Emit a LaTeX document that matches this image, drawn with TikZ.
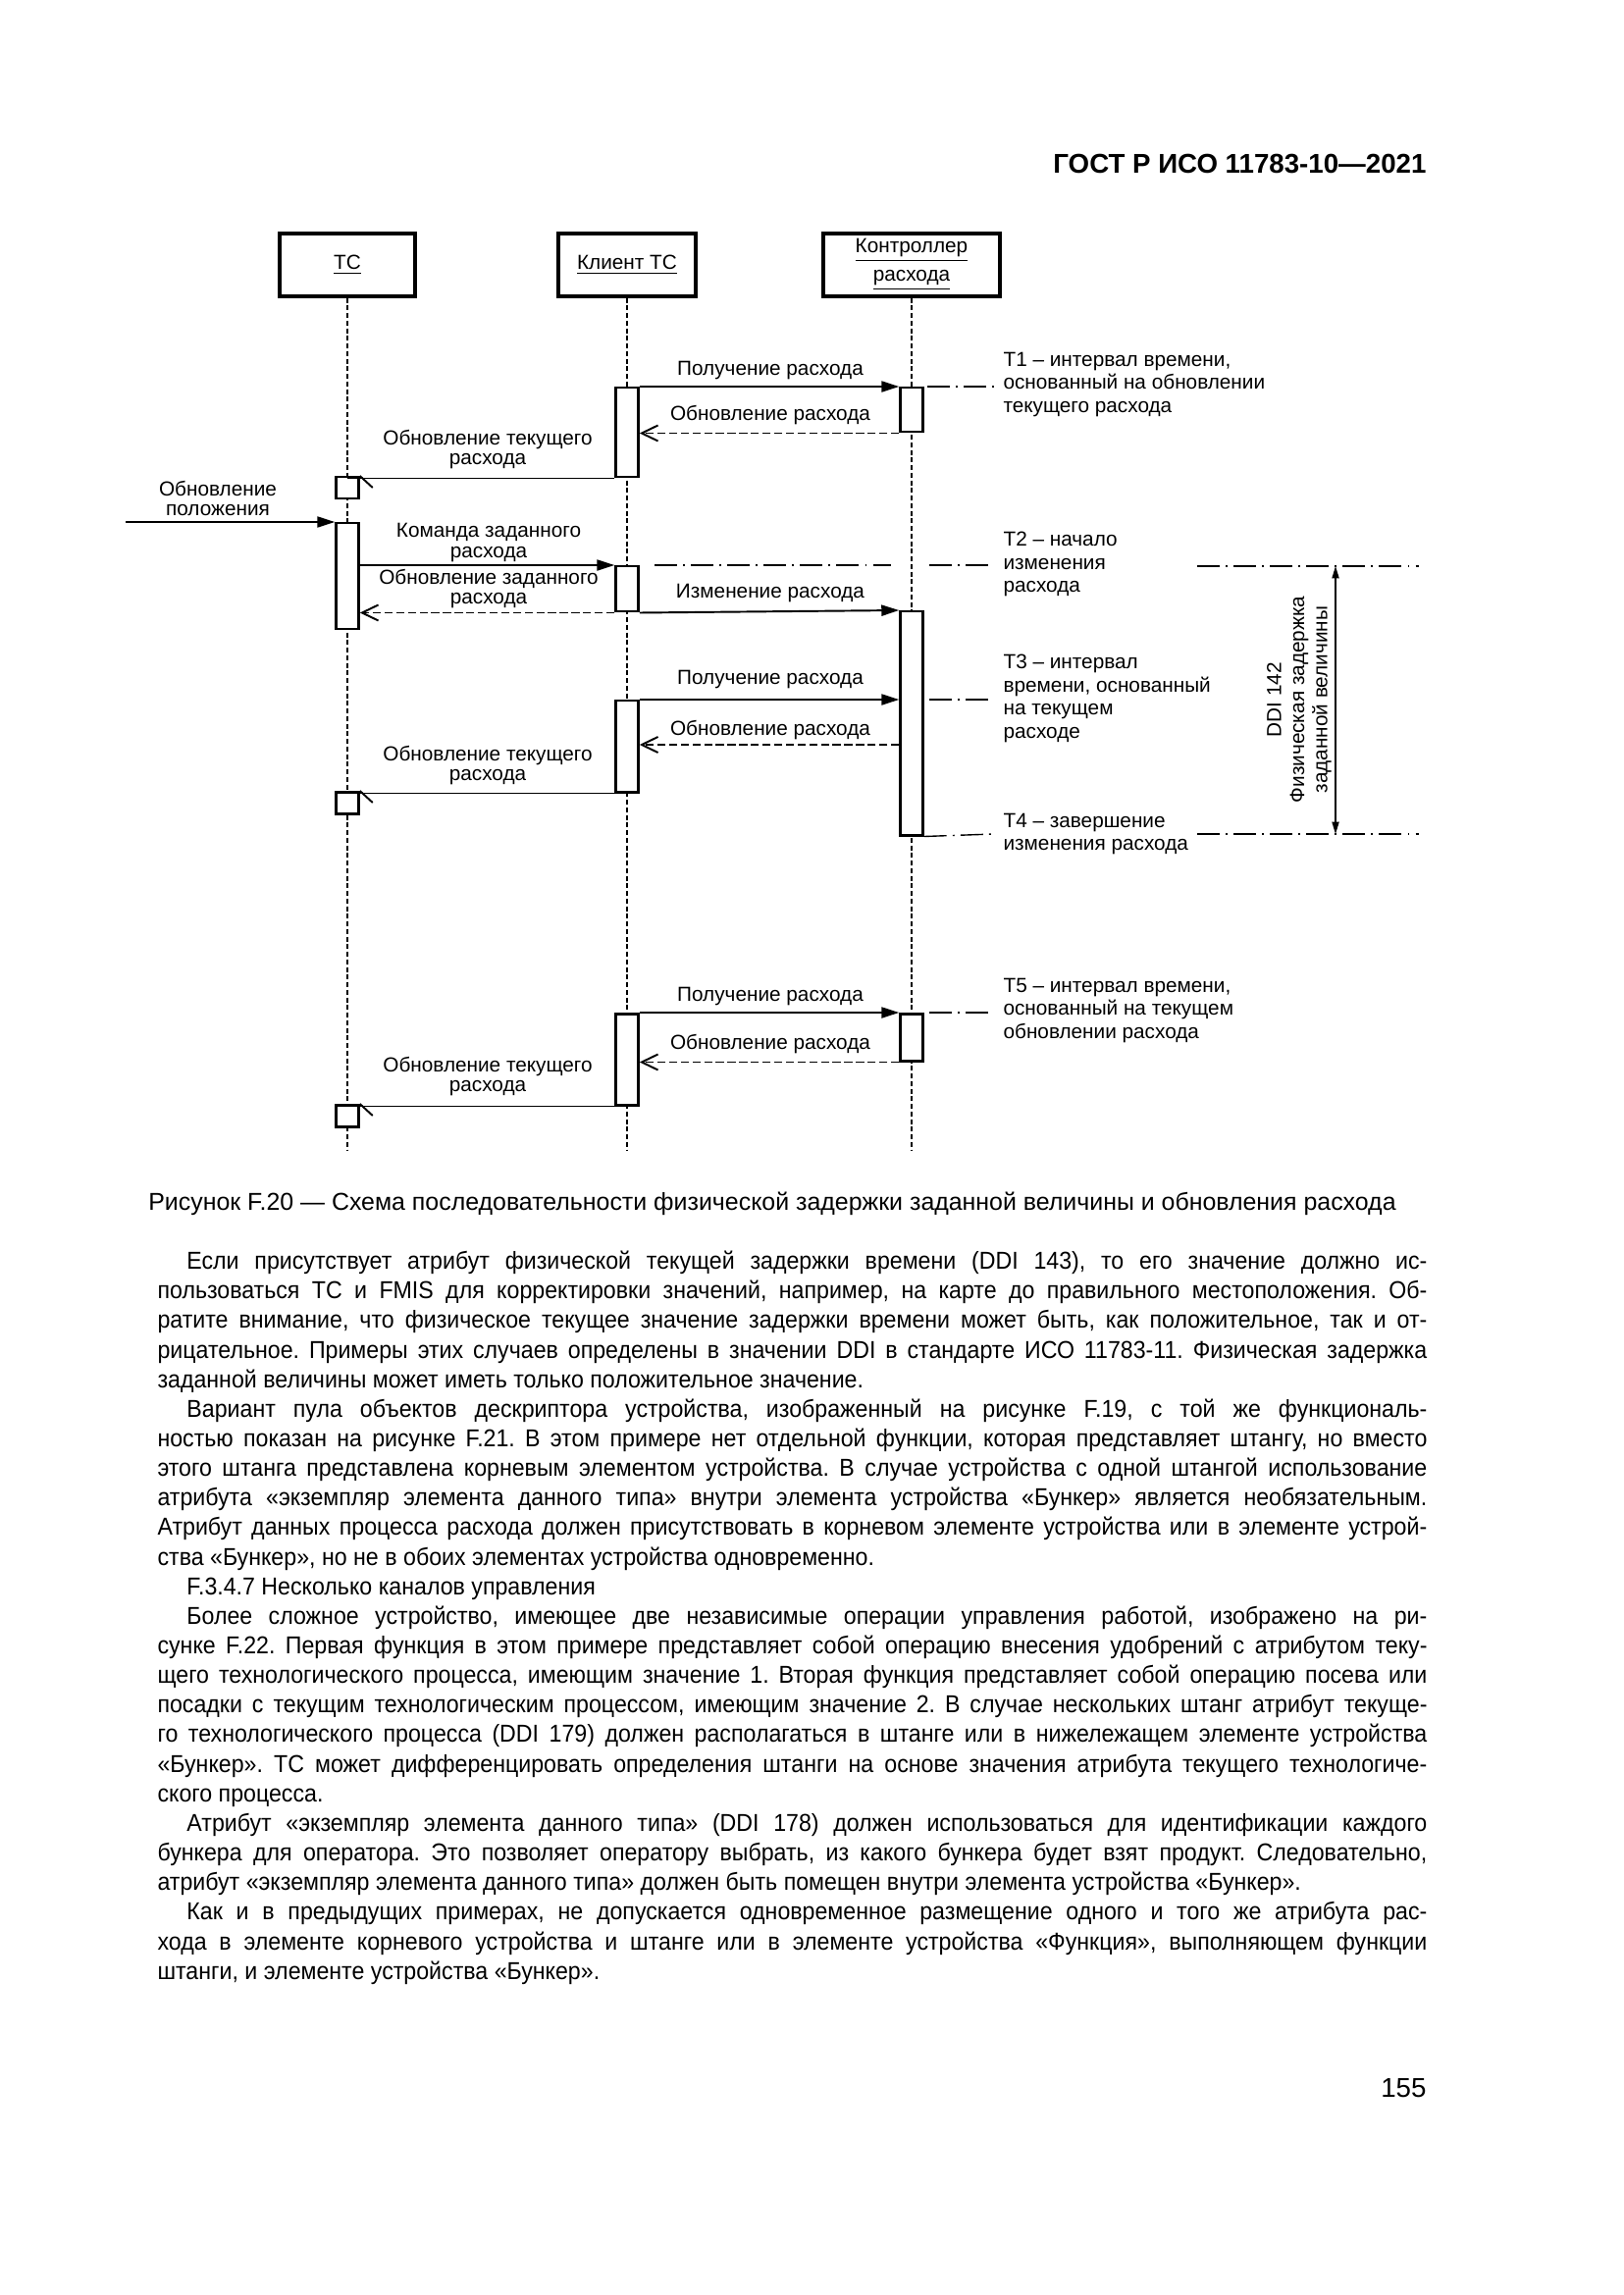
\documentclass[tikz,border=0pt]{standalone}
\usepackage{fontspec}
\setmainfont{Liberation Sans}
\newfontfamily\bodyf[FakeStretch=0.93]{Liberation Sans}
\usetikzlibrary{arrows.meta}
\newcommand\dfont{\fontsize{7.5}{7.3}\selectfont}
\newcommand\nfont{\fontsize{7.5}{8.5}\selectfont}
\newcommand\bfnt{\bodyf\fontsize{9}{10.89}\selectfont\frenchspacing\spaceskip=0.26em plus 0.6em minus 0.04em\relax}
\newlength\bodyw \setlength\bodyw{467.4pt}
\newlength\bodyind \setlength\bodyind{10.8pt}
\newcommand\pstart{\strut\hspace*{\bodyind}}
\newcommand\nl{\linebreak\strut}
\newcommand\actbox[4]{\node[act, minimum height={(#4-#3)*0.36125pt}] (#1) at (#2,#3) {};}
\tikzset{
  head/.style={draw, line width=1.1pt, inner sep=0, align=center, font=\fontsize{7.5}{10.5}\selectfont},
  act/.style={draw, fill=white, line width=0.9pt, inner sep=0, minimum width=8.31pt, anchor=north},
  life/.style={line width=0.5pt, dash pattern=on 1.8pt off 1pt},
  msg/.style={line width=0.7pt, -{Triangle[length=6.5pt,width=4pt]}},
  ret/.style={line width=0.7pt, dash pattern=on 3pt off 1.3pt, -{Straight Barb[length=6pt,width=5.8pt]}},
  async/.style={line width=0.7pt},
  dd/.style={line width=0.5pt, dash pattern=on 8.3pt off 2.2pt on 0.7pt off 2.2pt},
  lbl/.style={font=\dfont, align=center, inner sep=0},
  note/.style={font=\nfont, align=left, inner sep=0, anchor=west},
}
\begin{document}
\begin{tikzpicture}[x=0.36125pt, y=-0.36125pt]
\fill[white] (0,0) rectangle (1654,2339);
\useasboundingbox (0,0) rectangle (1654,2339);

% header
\node[font=\fontsize{10}{12}\selectfont\bfseries, anchor=east, inner sep=0] (hdr) at (1454,167) {ГОСТ Р ИСО 11783-10—2021};

% participants
\node[head, minimum width={138*0.36125pt}, minimum height={64*0.36125pt}] (tc) at (354,270) {\underline{ТС}};
\node[head, minimum width={140*0.36125pt}, minimum height={64*0.36125pt}] (cl) at (639,270) {\underline{Клиент ТС}};
\node[head, minimum width={180*0.36125pt}, minimum height={64*0.36125pt}] (ctl) at (929,270) {\underline{Контроллер}\\\underline{расхода}};

% lifelines
\coordinate (lend) at (0,1173);
\draw[life] (tc.south) -- (tc.south |- lend);
\draw[life] (cl.south) -- (cl.south |- lend);
\draw[life] (ctl.south) -- (ctl.south |- lend);

% activation boxes
\actbox{ca1}{639}{394}{485}
\actbox{cr1}{929}{394}{439}
\actbox{sb1}{354}{485}{507}
\actbox{ta1}{354}{532}{640}
\actbox{ca2}{639}{576}{622}
\actbox{cr2}{929}{622}{850}
\actbox{ca3}{639}{713}{806}
\actbox{sb2}{354}{806}{828}
\actbox{ca4}{639}{1032}{1125}
\actbox{cr3}{929}{1032}{1080}
\actbox{sb3}{354}{1125}{1147}

% messages
\draw[msg] (ca1.north east) -- (cr1.north west);
\node[lbl] (l1) at (785,378) {Получение расхода};
\draw[ret] (cr1.south west) -- (cr1.south west -| ca1.east);
\node[lbl] (l2) at (785,423) {Обновление расхода};
\draw[async] (ca1.south west) -- (ca1.south west -| tc.south);
\draw[async] (sb1.north east) -- ++(13,12);
\node[lbl] (l3) at (497,458) {Обновление текущего\\расхода};

\coordinate (pos) at (128,532);
\draw[msg] (pos) -- (ta1.north west);
\node[lbl] (l4) at (222,508) {Обновление\\положения};

\draw[msg] (ta1.east |- ca2.north) -- (ca2.north west);
\node[lbl] (l5) at (498,553) {Команда заданного\\расхода};
\draw[ret] (ca2.south west) -- (ca2.south west -| ta1.east);
\node[lbl] (l6) at (498,600) {Обновление заданного\\расхода};
\draw[msg] (ca2.south east) -- (cr2.north west);
\node[lbl] (l7) at (785,605) {Изменение расхода};

\coordinate (m9y) at (0,759);
\draw[msg] (ca3.north east) -- (ca3.north east -| cr2.west);
\node[lbl] (l8) at (785,693) {Получение расхода};
\draw[ret] (cr2.west |- m9y) -- (ca3.east |- m9y);
\node[lbl] (l9) at (785,744) {Обновление расхода};
\draw[async] (ca3.south west) -- (ca3.south west -| tc.south);
\draw[async] (sb2.north east) -- ++(13,12);
\node[lbl] (l10) at (497,780) {Обновление текущего\\расхода};

\draw[msg] (ca4.north east) -- (cr3.north west);
\node[lbl] (l11) at (785,1015) {Получение расхода};
\draw[ret] (cr3.south west) -- (cr3.south west -| ca4.east);
\node[lbl] (l12) at (785,1064) {Обновление расхода};
\draw[async] (ca4.south west) -- (ca4.south west -| tc.south);
\draw[async] (sb3.north east) -- ++(13,12);
\node[lbl] (l13) at (497,1097) {Обновление текущего\\расхода};

% time marks
\coordinate (t1a) at (945,394); \coordinate (t1b) at (1013,394);
\coordinate (t2a) at (667,576); \coordinate (t2b) at (908,576);
\coordinate (t2c) at (947,576); \coordinate (t2d) at (1013,576);
\coordinate (t3a) at (947,713); \coordinate (t3b) at (1013,713);
\coordinate (t4b) at (1013,850);
\coordinate (t5a) at (947,1032); \coordinate (t5b) at (1013,1032);
\draw[dd] (t1a) -- (t1b);
\draw[dd] (t2a) -- (t2b);
\draw[dd] (t2c) -- (t2d);
\draw[dd] (t3a) -- (t3b);
\draw[dd] (cr2.south east) -- (t4b);
\draw[dd] (t5a) -- (t5b);

\node[note] (n1) at (1022,392) {T1 – интервал времени,\\основанный на обновлении\\текущего расхода};
\node[note] (n2) at (1022,575) {T2 – начало\\изменения\\расхода};
\node[note] (n3) at (1022,712) {T3 – интервал\\времени, основанный\\на текущем\\расходе};
\node[note] (n4) at (1022,850) {T4 – завершение\\изменения расхода};
\node[note] (n5) at (1022,1030) {T5 – интервал времени,\\основанный на текущем\\обновлении расхода};

% delay dimension
\coordinate (r2a) at (1220,577); \coordinate (r2b) at (1446,577);
\coordinate (r4a) at (1220,850); \coordinate (r4b) at (1446,850);
\coordinate (da) at (1361,577); \coordinate (db) at (1361,850);
\draw[dd] (r2a) -- (r2b);
\draw[dd] (r4a) -- (r4b);
\draw[line width=0.5pt, {Triangle[length=4.5pt,width=2.6pt]}-{Triangle[length=4.5pt,width=2.6pt]}] (da) -- (db);
\node[font=\nfont, align=center, rotate=90, inner sep=0] (ddi) at (1324,713) {DDI 142\\Физическая задержка\\заданной величины};

% caption
\node[font=\fontsize{9}{11}\selectfont, inner sep=0] (cap) at (787,1227) {Рисунок F.20 — Схема последовательности физической задержки заданной величины и обновления расхода};

% body text
\node[font=\bfnt, text width=\bodyw, align=justify, inner sep=0, anchor=north west] (body) at (160,1272) {%
\pstart Если присутствует атрибут физической текущей задержки времени (DDI 143), то его значение должно ис-\nl
пользоваться ТС и FMIS для корректировки значений, например, на карте до правильного местоположения. Об-\nl
ратите внимание, что физическое текущее значение задержки времени может быть, как положительное, так и от-\nl
рицательное. Примеры этих случаев определены в значении DDI в стандарте ИСО 11783-11. Физическая задержка\nl
заданной величины может иметь только положительное значение.\par
\pstart Вариант пула объектов дескриптора устройства, изображенный на рисунке F.19, с той же функциональ-\nl
ностью показан на рисунке F.21. В этом примере нет отдельной функции, которая представляет штангу, но вместо\nl
этого штанга представлена корневым элементом устройства. В случае устройства с одной штангой использование\nl
атрибута «экземпляр элемента данного типа» внутри элемента устройства «Бункер» является необязательным.\nl
Атрибут данных процесса расхода должен присутствовать в корневом элементе устройства или в элементе устрой-\nl
ства «Бункер», но не в обоих элементах устройства одновременно.\par
\pstart F.3.4.7 Несколько каналов управления\par
\pstart Более сложное устройство, имеющее две независимые операции управления работой, изображено на ри-\nl
сунке F.22. Первая функция в этом примере представляет собой операцию внесения удобрений с атрибутом теку-\nl
щего технологического процесса, имеющим значение 1. Вторая функция представляет собой операцию посева или\nl
посадки с текущим технологическим процессом, имеющим значение 2. В случае нескольких штанг атрибут текуще-\nl
го технологического процесса (DDI 179) должен располагаться в штанге или в нижележащем элементе устройства\nl
«Бункер». ТС может дифференцировать определения штанги на основе значения атрибута текущего технологиче-\nl
ского процесса.\par
\pstart Атрибут «экземпляр элемента данного типа» (DDI 178) должен использоваться для идентификации каждого\nl
бункера для оператора. Это позволяет оператору выбрать, из какого бункера будет взят продукт. Следовательно,\nl
атрибут «экземпляр элемента данного типа» должен быть помещен внутри элемента устройства «Бункер».\par
\pstart Как и в предыдущих примерах, не допускается одновременное размещение одного и того же атрибута рас-\nl
хода в элементе корневого устройства и штанге или в элементе устройства «Функция», выполняющем функции\nl
штанги, и элементе устройства «Бункер».};

% page number
\node[font=\fontsize{10}{12}\selectfont, anchor=east, inner sep=0] (pg) at (1454,2128) {155};
\end{tikzpicture}
\end{document}
